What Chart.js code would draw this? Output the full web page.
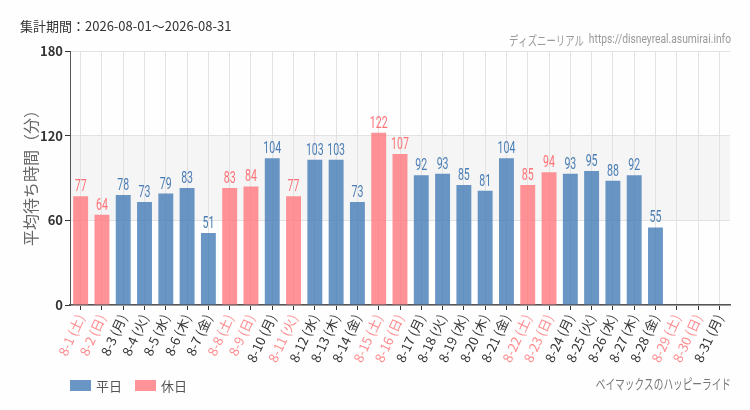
<!DOCTYPE html>
<html>
<head>
<meta charset="utf-8">
<script src="https://cdn.jsdelivr.net/npm/chart.js@4"></script>
<style>
  html, body { margin: 0; padding: 0; background: #fdfefd; }
  #wrap { width: 750px; height: 410px; position: relative; }
</style>
</head>
<body>
<div id="wrap"><canvas id="myChart" width="750" height="410"></canvas></div>
<script>
var days = ["8-1", "8-2", "8-3", "8-4", "8-5", "8-6", "8-7", "8-8", "8-9", "8-10",
  "8-11", "8-12", "8-13", "8-14", "8-15", "8-16", "8-17", "8-18", "8-19", "8-20",
  "8-21", "8-22", "8-23", "8-24", "8-25", "8-26", "8-27", "8-28", "8-29", "8-30", "8-31"];
var weekdays = ["土", "日", "月", "火", "水", "木", "金", "土", "日", "月",
  "火", "水", "木", "金", "土", "日", "月", "火", "水", "木",
  "金", "土", "日", "月", "火", "水", "木", "金", "土", "日", "月"];
var holidays = [1, 1, 0, 0, 0, 0, 0, 1, 1, 0,
  1, 0, 0, 0, 1, 1, 0, 0, 0, 0,
  0, 1, 1, 0, 0, 0, 0, 0, 1, 1, 0];
var waits = [77, 64, 78, 73, 79, 83, 51, 83, 84, 104,
  77, 103, 103, 73, 122, 107, 92, 93, 85, 81,
  104, 85, 94, 93, 95, 88, 92, 55, null, null, null];
var yTicks = [0, 60, 120, 180];

var blue = "rgba(64,120,182,0.78)";
var pink = "rgba(255,120,126,0.8)";
var blueText = "#4a7db5";
var pinkText = "#ff7277";
var NUMFONT = '"Roboto", "DejaVu Sans", sans-serif';
var JPFONT = '"Noto Sans CJK JP", "Noto Sans", sans-serif';

var labels = days.map(function (d, i) { return d + " (" + weekdays[i] + ")"; });
var weekdayData = waits.map(function (v, i) { return holidays[i] ? null : v; });
var holidayData = waits.map(function (v, i) { return holidays[i] ? v : null; });

// narrow text: squeeze horizontally around (x, y)
function narrowText(c, txt, x, y, sx) {
  c.save();
  c.translate(x, y);
  c.scale(sx, 1);
  c.fillText(txt, 0, 0);
  c.restore();
}

var extras = {
  id: "extras",
  beforeDraw: function (chart) {
    var c = chart.ctx, a = chart.chartArea, y = chart.scales.y;
    c.save();
    c.fillStyle = "#fdfefd";
    c.fillRect(0, 0, chart.width, chart.height);
    c.fillStyle = "#f4f5f4";
    c.fillRect(a.left, y.getPixelForValue(120), a.right - a.left, y.getPixelForValue(60) - y.getPixelForValue(120));
    c.restore();
  },
  afterDatasetsDraw: function (chart) {
    var c = chart.ctx;
    c.save();
    c.textAlign = "center";
    c.textBaseline = "bottom";
    c.font = "16px " + NUMFONT;
    chart.data.datasets.forEach(function (ds, di) {
      var meta = chart.getDatasetMeta(di);
      c.fillStyle = di === 0 ? blueText : pinkText;
      ds.data.forEach(function (v, i) {
        if (v == null) return;
        var el = meta.data[i];
        narrowText(c, String(v), el.x, el.y - 1, 0.66);
      });
    });
    c.restore();
  },
  afterDraw: function (chart) {
    var c = chart.ctx;
    c.save();
    c.textBaseline = "middle";
    c.fillStyle = "#333";
    c.font = "13px " + JPFONT;
    c.textAlign = "left";
    c.fillText("集計期間：2026-08-01～2026-08-31", 20, 26);
    c.fillStyle = "#999";
    c.textAlign = "right";
    c.font = "13px " + NUMFONT;
    var url = "https://disneyreal.asumirai.info";
    var uw = c.measureText(url).width * 0.79;
    narrowText(c, url, 731, 40, 0.79);
    c.font = "13px " + JPFONT;
    narrowText(c, "ディズニーリアル", 731 - uw - 5, 40, 0.72);
    c.fillStyle = "#777";
    c.font = "14px " + JPFONT;
    narrowText(c, "ベイマックスのハッピーライド", 731, 384, 0.69);
    // legend
    c.textAlign = "left";
    c.fillStyle = blue;
    c.fillRect(70, 380, 21, 11);
    c.fillStyle = "#555";
    c.font = "13px " + JPFONT;
    c.fillText("平日", 96, 386);
    c.fillStyle = pink;
    c.fillRect(135, 380, 21, 11);
    c.fillStyle = "#555";
    c.fillText("休日", 161, 386);
    // y title
    c.translate(31, 174);
    c.rotate(-Math.PI / 2);
    c.textAlign = "center";
    c.fillStyle = "#666";
    c.font = "16px " + JPFONT;
    c.fillText("平均待ち時間（分）", 0, 0);
    c.restore();
  }
};

var ctx = document.getElementById("myChart");
var myChart = new Chart(ctx, {
  type: "bar",
  data: {
    labels: labels,
    datasets: [
      { label: "平日", data: weekdayData, backgroundColor: blue },
      { label: "休日", data: holidayData, backgroundColor: pink }
    ]
  },
  options: {
    responsive: false,
    animation: false,
    devicePixelRatio: 1,
    layout: { padding: { top: 51, right: 20, left: 0, bottom: 0 } },
    datasets: { bar: { grouped: false, barPercentage: 0.7, categoryPercentage: 1 } },
    plugins: { legend: { display: false }, tooltip: { enabled: false } },
    scales: {
      x: {
        grid: { color: "#e2e2e2", tickColor: "#333", tickLength: 5, offset: false },
        border: { color: "#555", width: 1.5 },
        ticks: {
          minRotation: 65, maxRotation: 65, autoSkip: false, padding: 2,
          font: { size: 13, family: JPFONT },
          color: function (ctx) { return holidays[ctx.index] ? "#ff8a8e" : "#333"; }
        },
        afterFit: function (s) { s.height = 105; }
      },
      y: {
        min: 0, max: 180,
        afterBuildTicks: function (s) { s.ticks = yTicks.map(function (v) { return { value: v }; }); },
        grid: { color: "#e2e2e2", tickColor: "#333", tickLength: 5 },
        border: { color: "#555", width: 1 },
        ticks: { font: { size: 13, family: JPFONT, weight: "bold" }, color: "#333", padding: 2 },
        afterFit: function (s) { s.width = 70; }
      }
    }
  },
  plugins: [extras]
});
</script>
</body>
</html>
